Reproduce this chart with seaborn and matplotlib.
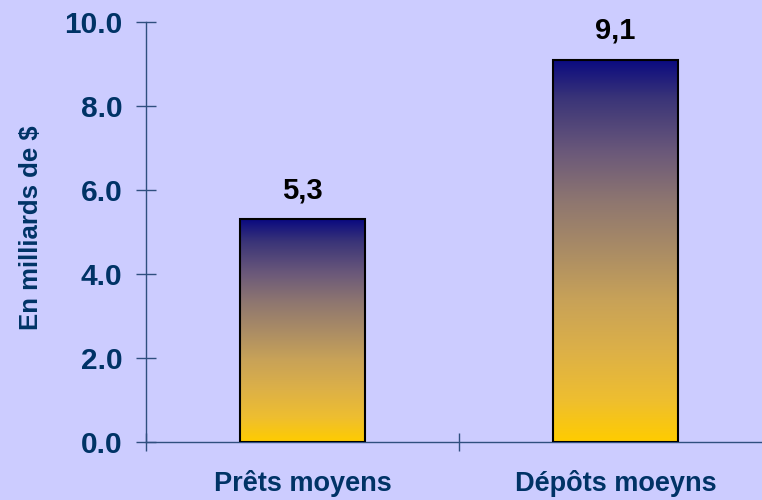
import matplotlib
matplotlib.use("Agg")
import matplotlib.pyplot as plt
import numpy as np
import pandas as pd
import seaborn as sns
from matplotlib.colors import LinearSegmentedColormap

categories = ["Prêts moyens", "Dépôts moeyns"]
values = [5.3, 9.1]
y_ticks = [0, 2, 4, 6, 8, 10]

bg = "#CCCCFF"
navy = "#003366"
axis_col = "#2F4F7F"

# bar gradient, bottom (gold) to top (navy)
grad_stops = [
    (0.00, "#FFCC00"), (0.11, "#EEBE30"), (0.24, "#DCB048"), (0.37, "#C8A258"),
    (0.50, "#AA8C65"), (0.63, "#8E7670"), (0.76, "#6A587A"), (0.90, "#3A3478"),
    (1.00, "#0A0A80"),
]
cmap = LinearSegmentedColormap.from_list("bar_grad", grad_stops)

sns.set_style("white")
plt.rcParams["font.family"] = ["Liberation Sans", "DejaVu Sans"]
plt.rcParams["font.weight"] = "bold"

df = pd.DataFrame({"cat": categories, "val": values})

fig = plt.figure(figsize=(7.62, 5.0), dpi=100, facecolor=bg)
ax = fig.add_axes([146 / 762, 58 / 500, 626 / 762, 420 / 500])
ax.set_facecolor(bg)

sns.barplot(data=df, x="cat", y="val", order=categories, width=0.4,
            color="white", edgecolor="black", linewidth=1.5, ax=ax)

grad = np.linspace(0, 1, 256).reshape(-1, 1)
for p in ax.patches:
    x0, y0, w, h = p.get_x(), p.get_y(), p.get_width(), p.get_height()
    p.set_facecolor("none")
    p.set_zorder(3)
    im = ax.imshow(grad, extent=[x0, x0 + w, y0, y0 + h], aspect="auto",
                   cmap=cmap, origin="lower", zorder=2)
    im.set_clip_path(p)

for i, v in enumerate(values):
    ax.annotate(f"{v:.1f}".replace(".", ","), xy=(i, v), xytext=(0, 15),
                textcoords="offset points", ha="center", va="baseline",
                fontsize=21, fontweight="bold", color="black")

ax.set_xlim(-0.5, 1.5)
ax.set_ylim(0, 10)
ax.set_yticks(y_ticks)
ax.set_yticklabels([f"{t:.1f}" for t in y_ticks])
ax.set_xticks(range(len(categories)))
ax.set_xticklabels(categories)
ax.set_xticks([-0.5, 0.5, 1.5], minor=True)

ax.tick_params(axis="y", left=True, direction="inout", length=14, width=1,
               color=axis_col, labelsize=21.5, labelcolor=navy, pad=10)
ax.tick_params(axis="x", which="major", bottom=True, length=0, labelsize=19.5,
               labelcolor=navy, pad=20)
ax.tick_params(axis="x", which="minor", bottom=True, direction="inout",
               length=13, width=1, color=axis_col)
for lab in ax.get_xticklabels() + ax.get_yticklabels():
    lab.set_fontweight("bold")

for s in ["top", "right"]:
    ax.spines[s].set_visible(False)
for s in ["left", "bottom"]:
    ax.spines[s].set_color(axis_col)
    ax.spines[s].set_linewidth(1)

ax.set_xlabel("")
ax.set_ylabel("En milliards de $", fontsize=18.5, fontweight="bold", color=navy)
ax.yaxis.set_label_coords(-0.165, 0.51)

fig.savefig("out.png", dpi=100, facecolor=bg)
